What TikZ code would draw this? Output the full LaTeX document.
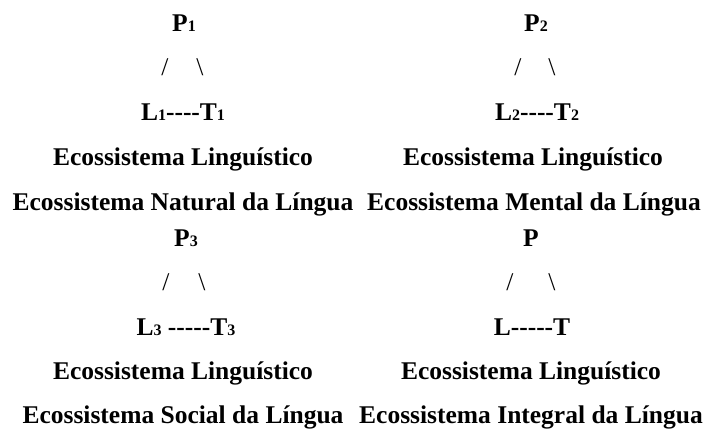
\documentclass[tikz,border=0pt]{standalone}
\usepackage{fontspec}
\setmainfont{Liberation Serif}
\newcommand{\sbs}[1]{{\fontsize{16}{16}\selectfont #1}}
\newcommand{\hy}{-\kern0pt}
\tikzset{
  txt/.style={anchor=base, inner sep=0pt, font=\fontsize{25.5}{30}\selectfont\bfseries},
  sl/.style={anchor=base, inner sep=0pt, font=\fontsize{25.5}{30}\selectfont},
}
\begin{document}
\begin{tikzpicture}[x=1pt,y=-1pt]
\useasboundingbox (0,0) rectangle (706,430);
% top left
\node[txt] (p1) at (184,32) {P\sbs{1}};
\node[sl] (s1a) at (165,76) {/};
\node[sl] (s1b) at (200,76) {\textbackslash};
\node[txt] (lt1) at (183,121) {L\sbs{1}\hy\hy\hy\hy T\sbs{1}};
\node[txt] (e1a) at (183,166) {Ecossistema Linguístico};
\node[txt] (e1b) at (183,211) {Ecossistema Natural da Língua};
% top right
\node[txt] (p2) at (536,32) {P\sbs{2}};
\node[sl] (s2a) at (518,76) {/};
\node[sl] (s2b) at (552,76) {\textbackslash};
\node[txt] (lt2) at (537,121) {L\sbs{2}\hy\hy\hy\hy T\sbs{2}};
\node[txt] (e2a) at (533,166) {Ecossistema Linguístico};
\node[txt] (e2b) at (534,211) {Ecossistema Mental da Língua};
% bottom left
\node[txt] (p3) at (186,247) {P\sbs{3}};
\node[sl] (s3a) at (166,290) {/};
\node[sl] (s3b) at (202,290) {\textbackslash};
\node[txt] (lt3) at (186,335) {L\sbs{3} \hy\hy\hy\hy\hy T\sbs{3}};
\node[txt] (e3a) at (183,379) {Ecossistema Linguístico};
\node[txt] (e3b) at (183,423) {Ecossistema Social da Língua};
% bottom right
\node[txt] (p4) at (531,247) {P};
\node[sl] (s4a) at (510,290) {/};
\node[sl] (s4b) at (552,290) {\textbackslash};
\node[txt] (lt4) at (532,335) {L\hy\hy\hy\hy\hy T};
\node[txt] (e4a) at (531,379) {Ecossistema Linguístico};
\node[txt] (e4b) at (531,423) {Ecossistema Integral da Língua};
\end{tikzpicture}
\end{document}
